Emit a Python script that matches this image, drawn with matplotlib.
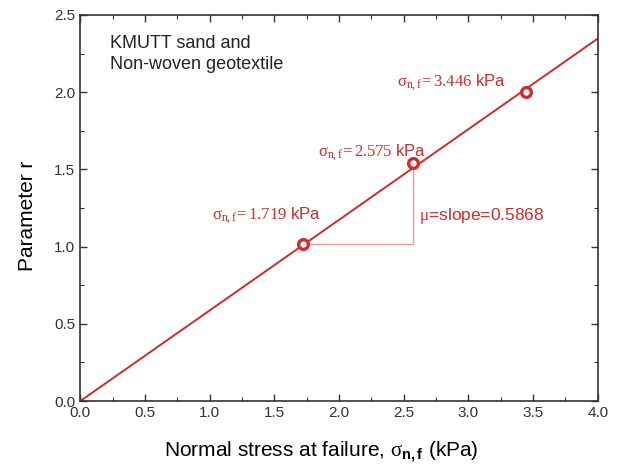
import numpy as np
import matplotlib.pyplot as plt
from matplotlib.ticker import MultipleLocator

plt.rcParams['font.family'] = ['Liberation Sans', 'DejaVu Sans']
plt.rcParams['mathtext.fontset'] = 'custom'
plt.rcParams['mathtext.rm'] = 'Liberation Serif'
plt.rcParams['mathtext.it'] = 'Liberation Serif'
plt.rcParams['mathtext.bf'] = 'Liberation Sans:bold'

# measured points: normal stress at failure (kPa) and parameter r
sigma_nf = [1.719, 2.575, 3.446]
r_vals = [1.02, 1.54, 2.00]
slope = 0.5868
x_fit = [0.0, 4.0]

red = '#d42a2a'

fig, ax = plt.subplots(figsize=(6.22, 4.68), dpi=100)
fig.subplots_adjust(left=0.129, right=0.961, bottom=0.143, top=0.968)

# fitted line through origin
ax.plot(x_fit, [slope * x for x in x_fit], color=red, lw=1.4, zorder=2)

# slope triangle
ax.plot([sigma_nf[0], sigma_nf[1], sigma_nf[1]],
        [r_vals[0], r_vals[0], r_vals[1]], color='#e89a9a', lw=1.0, zorder=1)

ax.plot(sigma_nf, r_vals, 'o', mfc='white', mec=red, mew=2.4, ms=7, zorder=3)

# labels beside each point
label_pos = [(1.02, 1.20), (1.84, 1.61), (2.45, 2.06)]
for s, (tx, ty) in zip(sigma_nf, label_pos):
    ax.text(tx, ty, r'$\mathrm{\sigma_{n,f}\!= %.3f}$ kPa' % s,
            color=red, fontsize=12, va='center', ha='left')

ax.text(2.62, 1.20, r'$\mathrm{\mu}$' + '=slope=%.4f' % slope, color=red,
        fontsize=12.5, va='center', ha='left')

ax.text(0.23, 2.37, 'KMUTT sand and\nNon-woven geotextile', fontsize=13,
        va='top', ha='left', color='#222222', linespacing=1.3)

ax.set_xlim(0, 4.0)
ax.set_ylim(0, 2.5)
ax.xaxis.set_major_locator(MultipleLocator(0.5))
ax.xaxis.set_minor_locator(MultipleLocator(0.25))
ax.yaxis.set_major_locator(MultipleLocator(0.5))
ax.yaxis.set_minor_locator(MultipleLocator(0.25))
ax.tick_params(which='both', direction='in', top=True, right=True,
               labelsize=11, colors='#333333')
ax.tick_params(which='major', length=5, width=1.0)
ax.tick_params(which='minor', length=3, width=0.8)
ax.xaxis.set_major_formatter(plt.FormatStrFormatter('%.1f'))
ax.yaxis.set_major_formatter(plt.FormatStrFormatter('%.1f'))
for sp in ax.spines.values():
    sp.set_linewidth(1.2)
    sp.set_color('#333333')

ax.set_xlabel(r'Normal stress at failure, $\mathrm{\sigma}_{\mathbf{n,f}}$ (kPa)',
              fontsize=15)
ax.set_ylabel('Parameter r', fontsize=15)
ax.xaxis.set_label_coords(0.465, -0.098)
ax.yaxis.set_label_coords(-0.083, 0.48)

fig.savefig('out.png', dpi=100)
